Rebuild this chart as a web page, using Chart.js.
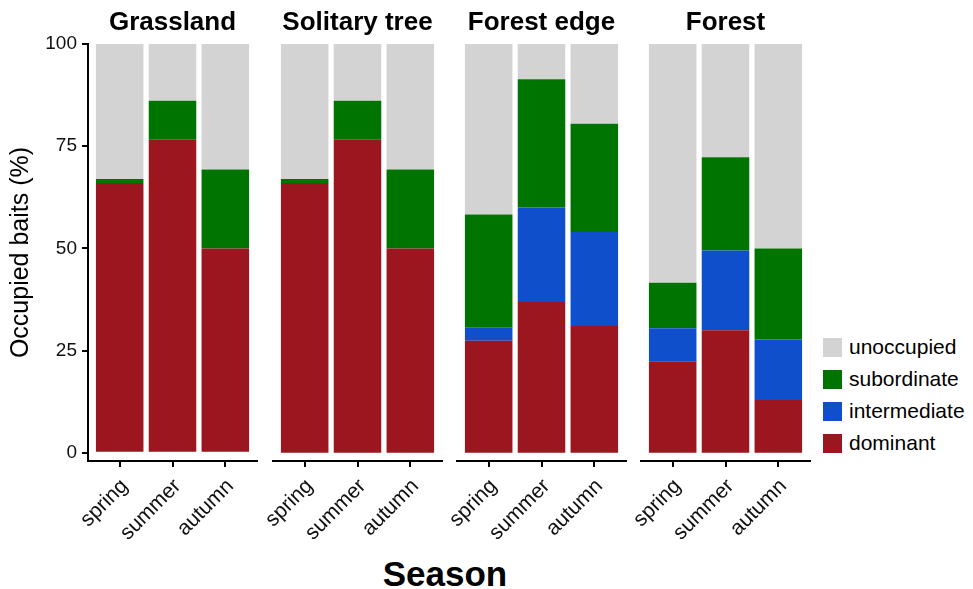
<!DOCTYPE html>
<html>
<head>
<meta charset="utf-8">
<title>Occupied baits by season</title>
<script src="https://cdn.jsdelivr.net/npm/chart.js@4.4.1/dist/chart.umd.min.js"></script>
<style>
  html, body { margin: 0; padding: 0; background: #fff; }
  #wrap {
    position: relative; width: 973px; height: 589px; overflow: hidden;
    font-family: "Liberation Sans", Arial, sans-serif; color: #000;
  }
  #wrap canvas { position: absolute; left: 0; top: 0; }
  #season {
    position: absolute; left: 345px; width: 200px; top: 556px;
    text-align: center; font-weight: bold; font-size: 35px; line-height: 35px;
  }
  #legend { position: absolute; left: 823px; top: 331px; }
  .row { display: flex; align-items: center; height: 32px; font-size: 21px; }
  .sw { width: 19px; height: 19px; margin-right: 7px; }
</style>
</head>
<body>
<div id="wrap">
  <div id="season">Season</div>
  <div id="legend"></div>
</div>
<script>
"use strict";

// ─── Data ─────────────────────────────────────────────────────────────────

const HABITATS = ["Grassland", "Solitary tree", "Forest edge", "Forest"];
const SEASONS  = ["spring", "summer", "autumn"];
const Y_TICKS  = [0, 25, 50, 75, 100];

// one row per habitat, one value per season (percent of baits)
const dominant     = [[66.0, 76.6, 50.0], [66.0, 76.6, 50.0], [27.4, 36.9, 31.0], [22.4, 30.0, 12.9]];
const intermediate = [[0, 0, 0],          [0, 0, 0],          [3.2, 23.1, 23.0],  [8.1, 19.5, 14.8]];
const subordinate  = [[1.0, 9.5, 19.3],   [1.0, 9.5, 19.3],   [27.7, 31.4, 26.5], [11.1, 22.8, 22.3]];
const unoccupied   = [[33.0, 13.9, 30.7], [33.0, 13.9, 30.7], [41.7, 8.6, 19.5],  [58.4, 27.7, 50.0]];

// stacking order, bottom to top
const SERIES = [
  { label: "dominant",     color: "#9c1620", values: dominant },
  { label: "intermediate", color: "#0f4fcc", values: intermediate },
  { label: "subordinate",  color: "#007400", values: subordinate },
  { label: "unoccupied",   color: "#d3d3d3", values: unoccupied },
];

// ─── Layout ───────────────────────────────────────────────────────────────

const W = 973, H = 589;
const PANEL_LEFT = [88, 273, 457, 641];
const PANEL_W    = 169;

Chart.defaults.font.family = '"Liberation Sans", Arial, sans-serif';
Chart.defaults.color = "#111";

const panelTitle = {
  id: "panelTitle",
  afterDraw(chart, args, opts) {
    const { ctx, chartArea } = chart;
    ctx.save();
    ctx.font = 'bold 26px "Liberation Sans", Arial, sans-serif';
    ctx.fillStyle = "#000";
    ctx.textAlign = "center";
    ctx.textBaseline = "alphabetic";
    ctx.fillText(opts.text, (chartArea.left + chartArea.right) / 2, 30);
    ctx.restore();
  },
};

function makePanel(i) {
  const canvas = document.createElement("canvas");
  canvas.width = W;
  canvas.height = H;
  document.getElementById("wrap").appendChild(canvas);
  const first = i === 0;

  new Chart(canvas.getContext("2d"), {
    type: "bar",
    data: {
      datasets: SERIES.map((s) => ({
        label: s.label,
        backgroundColor: s.color,
        borderWidth: 0,
        barPercentage: 0.9,
        categoryPercentage: 1,
        data: s.values[i].map((v, k) => ({ x: k + 1, y: v })),
      })),
    },
    options: {
      responsive: false,
      animation: false,
      devicePixelRatio: 1,
      events: [],
      layout: {
        padding: {
          left: first ? 0 : PANEL_LEFT[i],
          right: W - PANEL_LEFT[i] - PANEL_W,
          top: 44,
          bottom: 0,
        },
      },
      plugins: {
        legend: { display: false },
        tooltip: { enabled: false },
        panelTitle: { text: HABITATS[i] },
      },
      scales: {
        x: {
          type: "linear",
          stacked: true,
          offset: false,
          min: 0.4,
          max: 3.6,
          afterBuildTicks: (s) => { s.ticks = SEASONS.map((_, k) => ({ value: k + 1 })); },
          afterFit: (s) => { s.height = 128; s.paddingLeft = 0; s.paddingRight = 0; },
          ticks: {
            callback: (v) => SEASONS[v - 1],
            autoSkip: false,
            minRotation: 45,
            maxRotation: 45,
            padding: 7,
            labelOffset: 5,
            color: "#111",
            font: { size: 21 },
          },
          grid: { offset: false, drawOnChartArea: false, color: "#000", lineWidth: 2, tickLength: 6 },
          border: { color: "#000", width: 2 },
        },
        y: {
          display: first,
          stacked: true,
          min: -2,
          max: 100,
          afterBuildTicks: (s) => { s.ticks = Y_TICKS.map((v) => ({ value: v })); },
          afterFit: (s) => { if (first) s.width = 88; },
          ticks: { padding: 5, color: "#111", font: { size: 19 } },
          grid: { drawOnChartArea: false, color: "#000", lineWidth: 2, tickLength: 6 },
          border: { color: "#000", width: 2 },
          title: {
            display: true,
            text: "Occupied baits (%)",
            color: "#000",
            font: { size: 25 },
            padding: { top: 6, bottom: 0 },
          },
        },
      },
    },
    plugins: [panelTitle],
  });
}

HABITATS.forEach((_, i) => makePanel(i));

// ─── Legend (top of stack first) ──────────────────────────────────────────

const legend = document.getElementById("legend");
SERIES.slice().reverse().forEach((s) => {
  const row = document.createElement("div");
  row.className = "row";
  row.innerHTML = `<span class="sw" style="background:${s.color}"></span>${s.label}`;
  legend.appendChild(row);
});
</script>
</body>
</html>
